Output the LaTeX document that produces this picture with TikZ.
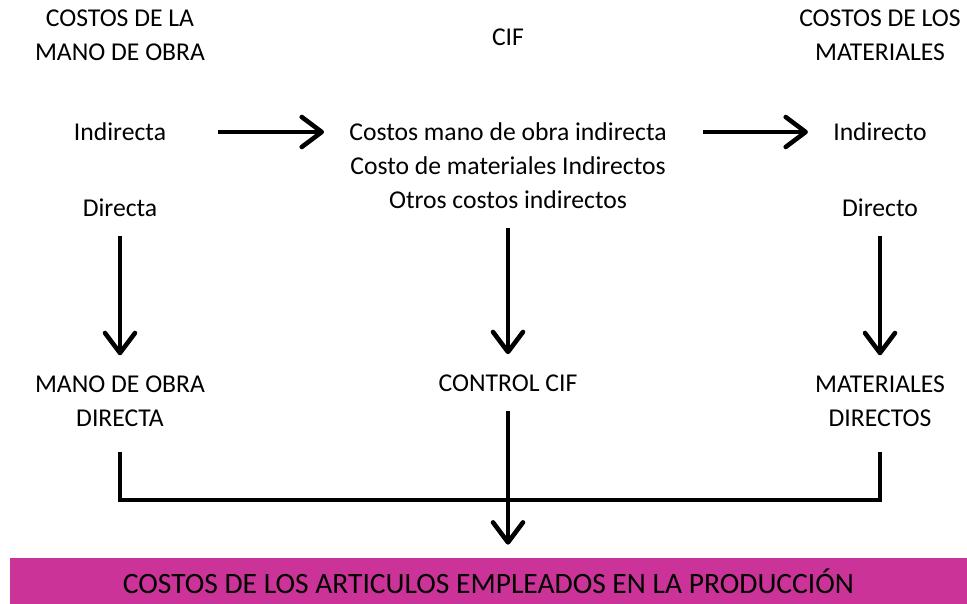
\documentclass[tikz,border=0pt]{standalone}
\usepackage{fontspec}
\setmainfont{Carlito}
\usetikzlibrary{arrows.meta}
\definecolor{barpink}{HTML}{CC3399}

\begin{document}
\begin{tikzpicture}
	[x=0.02cm,y=-0.02cm,every node/.style={align=center,inner sep=0pt,font=\fontsize{14.6}{19.3}\selectfont}]
	\tikzset{edge/.style = {-{Straight Barb[length=4mm,width=6mm,round]},line width=2.6pt}}
	\tikzset{bracket/.style = {line width=2.6pt}}
	\useasboundingbox (0,0) rectangle (967,604);
	\node (hmo) at (120,35) {COSTOS DE LA\\MANO DE OBRA};
	\node (hcif) at (508,37) {CIF};
	\node (hmat) at (880,35) {COSTOS DE LOS\\MATERIALES};
	
	\node (ind) at (120,132) {Indirecta};
	\node (dir) at (120,208) {Directa};
	\node (cmo) at (508,132) {Costos mano de obra indirecta};
	\node (cmi) at (508,166) {Costo de materiales Indirectos};
	\node (oci) at (508,200) {Otros costos indirectos};
	\node (indo) at (880,132) {Indirecto};
	\node (dto) at (880,208) {Directo};
	
	\node (mod) at (120,401) {MANO DE OBRA\\DIRECTA};
	\node (ccif) at (508,383) {CONTROL CIF};
	\node (md) at (880,401) {MATERIALES\\DIRECTOS};
	
	\node[fill=barpink,minimum width=19.14cm,minimum height=0.92cm,font=\fontsize{16.8}{20}\selectfont] (bar) at (488.5,581) {COSTOS DE LOS ARTICULOS EMPLEADOS EN LA PRODUCCIÓN};
	\coordinate (jn) at (508,500);
	
	\draw[edge,shorten <=1.04cm,shorten >=0.5cm] (ind) -- (cmo);
	\draw[edge,shorten <=0.72cm,shorten >=0.5cm] (cmo) -- (indo);
	\foreach \from/\to in {dir/mod,oci/ccif,dto/md}
	\draw[edge,shorten <=0.38cm,shorten >=0.4cm] (\from) -- (\to);
	\draw[bracket,shorten <=0.5cm,shorten >=0.5cm] (mod.south) |- (jn) -| (md.south);
	\draw[edge,shorten <=0.38cm,shorten >=0.26cm] (ccif) -- (ccif |- bar.north);
\end{tikzpicture}
\end{document}
